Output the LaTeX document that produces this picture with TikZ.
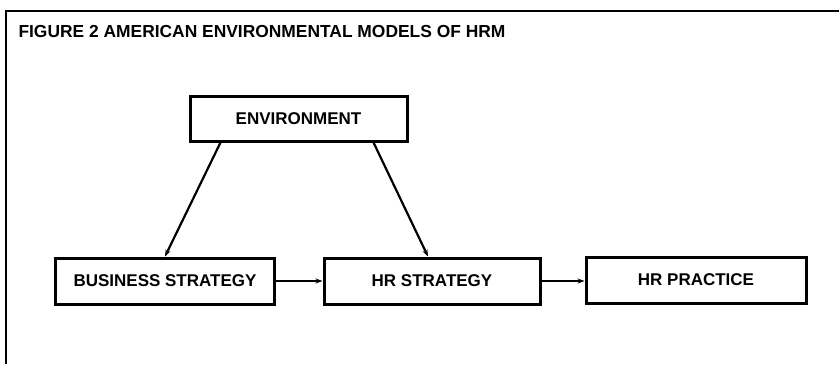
\documentclass[tikz,border=0pt]{standalone}
\usepackage{fontspec}
\setmainfont{Liberation Sans}
\usetikzlibrary{arrows.meta}

\begin{document}
\begin{tikzpicture}[x=1bp,y=-1bp,
  box/.style={draw,line width=3bp,minimum height=46bp,inner sep=0pt,
    font=\fontsize{17bp}{20bp}\selectfont\bfseries},
  link/.style={line width=2.2bp,-{Stealth[length=7bp,width=5bp]}}]
\useasboundingbox (0,0) rectangle (839,364);
% frame, only top and left sides
\draw [line width=2bp] (839,11) -- (6,11) -- (6,364);
\node [anchor=base west,font=\fontsize{17.4bp}{20bp}\selectfont\bfseries] (title) at (15,37)
  {FIGURE 2 AMERICAN ENVIRONMENTAL MODELS OF HRM};

\node [box,minimum width=217bp,minimum height=45bp] (env) at (298.5,118.5) {ENVIRONMENT};
\node [box,minimum width=218bp] (bus) at (165,281) {BUSINESS STRATEGY};
\node [box,minimum width=216bp] (hrs) at (432,281) {HR STRATEGY};
\node [box,minimum width=220bp] (prac) at (696,280) {HR PRACTICE};

\draw [link] ([xshift=32bp]env.south west) -- (bus.north);
\draw [link] ([xshift=-35bp]env.south east) -- ([xshift=-4bp]hrs.north);
\draw [link] (bus.east) -- (hrs.west);
\draw [link] (hrs.east) -- (hrs.east -| prac.west);
\end{tikzpicture}
\end{document}
